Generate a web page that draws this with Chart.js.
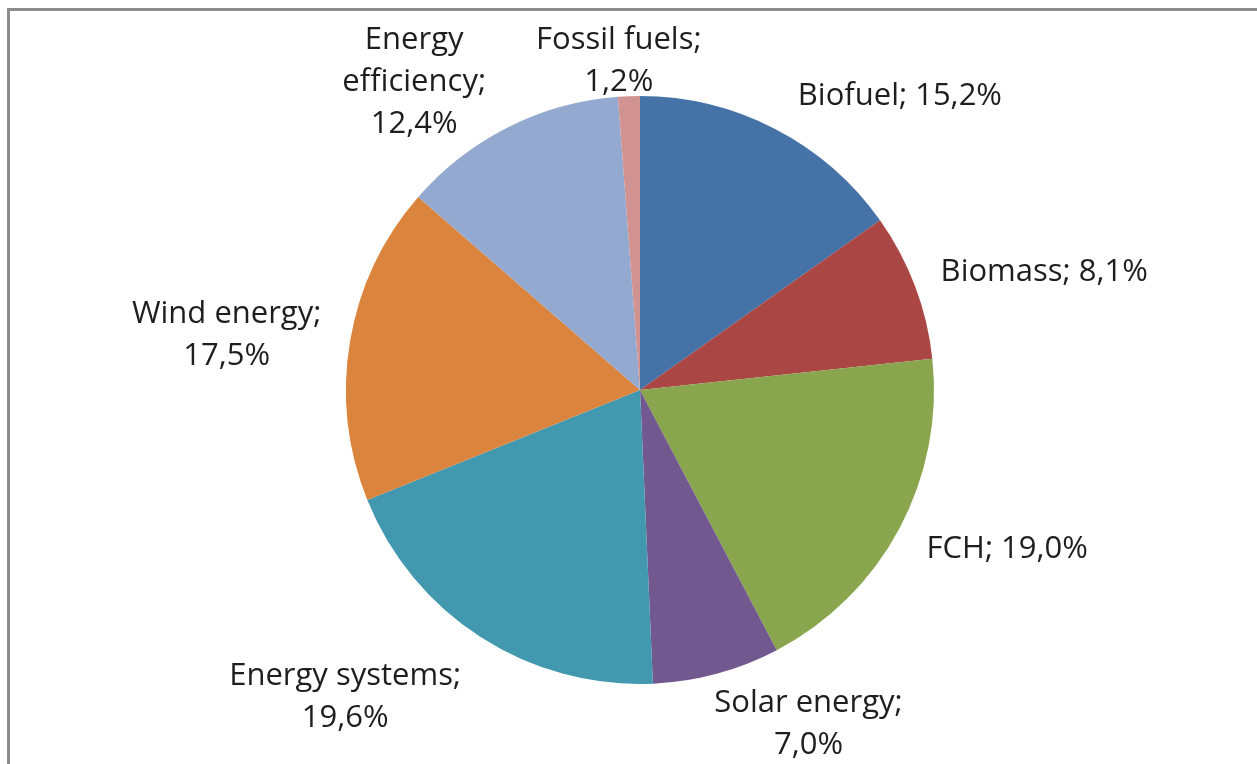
<!DOCTYPE html>
<html>
<head>
<meta charset="utf-8">
<script src="https://cdn.jsdelivr.net/npm/chart.js@4.4.1/dist/chart.umd.min.js"></script>
<style>
  html, body { margin: 0; padding: 0; background: #fff; }
  #wrap { position: relative; width: 1257px; height: 764px; overflow: hidden; }
  #frame { position: absolute; left: 7px; top: 8px; width: 1400px; height: 900px;
           border-top: 3px solid #8c8c8c; border-left: 3px solid #8c8c8c; }
  canvas { position: absolute; left: 0; top: 0; }
</style>
</head>
<body>
<div id="wrap">
  <div id="frame"></div>
  <canvas id="pie" width="1257" height="764"></canvas>
</div>
<script>
// data
const categories = ["Biofuel", "Biomass", "FCH", "Solar energy", "Energy systems", "Wind energy", "Energy efficiency", "Fossil fuels"];
const shares = [15.2, 8.1, 19.0, 7.0, 19.6, 17.5, 12.4, 1.2];
const colors = ["#4572A7", "#AA4643", "#89A54E", "#71588F", "#4198AF", "#DB843D", "#93A9CF", "#D19392"];

// label layout: block centre relative to pie centre, in units of radius; how lines wrap
const labelPos = [[0.884, -1.0], [1.375, -0.4], [1.249, 0.54], [0.573, 1.136],
                  [-1.003, 1.044], [-1.406, -0.185], [-0.768, -1.048], [-0.072, -1.12]];
const labelWrap = [1, 1, 1, 2, 2, 2, 3, 2];

function fmtPct(v) { return v.toFixed(1).replace(".", ",") + "%"; }

function labelLines(i) {
  const name = categories[i], val = fmtPct(shares[i]);
  if (labelWrap[i] === 1) return [name + "; " + val];
  if (labelWrap[i] === 2) return [name + ";", val];
  const parts = name.split(" ");
  return [parts[0], parts.slice(1).join(" ") + ";", val];
}

const pieLabels = {
  id: "pieLabels",
  afterDraw(chart) {
    const ctx = chart.ctx;
    const arcs = chart.getDatasetMeta(0).data;
    ctx.save();
    ctx.font = "31px 'Open Sans'";
    ctx.fillStyle = "#1e1e1e";
    ctx.textAlign = "center";
    ctx.textBaseline = "middle";
    const lh = 42;
    arcs.forEach((arc, i) => {
      const r = arc.outerRadius;
      const cx = arc.x + labelPos[i][0] * r;
      const cy = arc.y + labelPos[i][1] * r;
      const lines = labelLines(i);
      const y0 = cy - (lines.length - 1) * lh / 2;
      lines.forEach((t, k) => ctx.fillText(t, cx, y0 + k * lh));
    });
    ctx.restore();
  }
};

new Chart(document.getElementById("pie").getContext("2d"), {
  type: "pie",
  data: {
    labels: categories,
    datasets: [{ data: shares, backgroundColor: colors, borderWidth: 0, hoverOffset: 0, offset: 0 }]
  },
  options: {
    responsive: false, animation: false, events: [],
    layout: { padding: { top: 96, bottom: 80, left: 23, right: 0 } },
    plugins: { legend: { display: false }, tooltip: { enabled: false } }
  },
  plugins: [pieLabels]
});
</script>
</body>
</html>
